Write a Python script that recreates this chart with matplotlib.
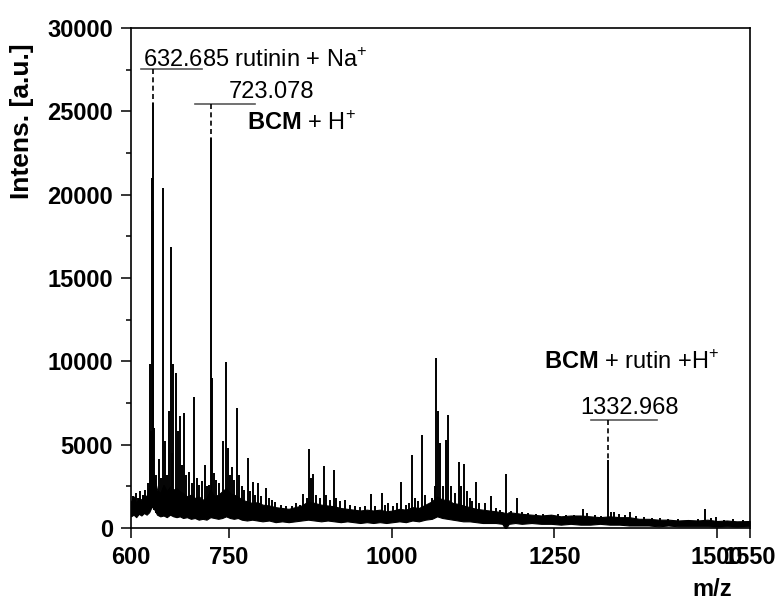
import numpy as np
import matplotlib
matplotlib.use("Agg")
import matplotlib.pyplot as plt

plt.rcParams["font.family"] = ["Liberation Sans", "DejaVu Sans"]
plt.rcParams["mathtext.fontset"] = "custom"
plt.rcParams["mathtext.rm"] = "Liberation Sans"
plt.rcParams["mathtext.bf"] = "Liberation Sans:bold"

# noisy baseline band (m/z, lower and upper edge of the trace)
band_mz = [600, 604, 608, 612, 616, 620, 624, 628, 632, 636,
           640, 645, 650, 655, 660, 665, 670, 675, 680, 686,
           692, 698, 704, 710, 716, 722, 728, 734, 740, 746,
           752, 758, 764, 770, 778, 786, 794, 802, 812, 822,
           832, 842, 852, 862, 872, 882, 892, 902, 912, 922,
           932, 942, 952, 962, 972, 982, 992, 1002, 1012, 1022,
           1032, 1042, 1052, 1062, 1070, 1078, 1086, 1094, 1102, 1110,
           1120, 1130, 1140, 1150, 1160, 1170, 1174, 1176, 1180, 1190,
           1200, 1215, 1230, 1245, 1260, 1275, 1290, 1305, 1320, 1335,
           1350, 1365, 1380, 1395, 1410, 1425, 1440, 1455, 1470, 1485,
           1500, 1515, 1530, 1550]
band_lo = [700, 800, 650, 850, 750, 900, 800, 950, 1300, 1100,
           800, 700, 750, 650, 800, 700, 650, 700, 600, 650,
           550, 600, 500, 550, 500, 650, 600, 550, 600, 700,
           600, 550, 600, 500, 450, 500, 450, 400, 450, 350,
           400, 350, 400, 450, 500, 450, 400, 450, 400, 350,
           400, 350, 300, 350, 300, 350, 300, 350, 400, 350,
           450, 400, 500, 550, 700, 600, 550, 500, 450, 400,
           400, 350, 300, 300, 300, 250, 0, 0, 250, 300,
           250, 300, 250, 250, 200, 250, 200, 200, 250, 200,
           200, 150, 150, 150, 100, 150, 100, 100, 100, 100,
           80, 100, 80, 100]
band_hi = [1600, 1900, 1500, 1800, 1700, 2000, 1900, 2600, 3800, 3000,
           2300, 2100, 2600, 2200, 2500, 2300, 2400, 2200, 2100, 1900,
           2000, 1800, 1900, 1700, 1800, 2300, 1900, 2000, 2200, 2400,
           2100, 2000, 1900, 1700, 1600, 1500, 1550, 1400, 1350, 1250,
           1200, 1150, 1250, 1350, 1600, 1500, 1400, 1350, 1300, 1200,
           1150, 1100, 1050, 1100, 1050, 1100, 1000, 1050, 1150, 1100,
           1250, 1200, 1400, 1600, 1900, 1700, 1700, 1500, 1450, 1350,
           1250, 1150, 1100, 1050, 1000, 950, 900, 850, 950, 900,
           850, 800, 750, 800, 700, 750, 750, 700, 650, 700,
           650, 650, 550, 550, 500, 500, 450, 480, 450, 500,
           420, 450, 400, 420]

# peaks
peak_mz = [603, 607, 611, 614, 618, 622, 626, 629, 630.5, 632.8,
           633.5, 634.3, 636, 639, 643, 646, 649, 652, 655, 658,
           661, 663, 665, 669, 672, 675, 678, 681, 684, 689,
           693, 697, 701, 705, 709, 713, 717, 720, 722.8, 724.5,
           727, 731, 735, 741, 745.6, 749, 752, 755, 758, 762.5,
           766, 770, 774, 779, 783, 787, 791, 795, 800, 807,
           812, 817, 821, 830, 838, 847, 854, 860, 864, 870,
           874, 877, 880, 884, 890, 896, 900, 905, 911, 915,
           921, 928, 936, 944, 952, 960, 969, 975, 985, 990,
           995, 1003, 1009, 1015, 1022, 1027, 1031, 1036, 1041, 1047.5,
           1052, 1057, 1062, 1066, 1069, 1071, 1074, 1079, 1084, 1087,
           1091, 1097, 1103, 1106, 1112, 1116, 1120, 1124, 1129, 1135,
           1144, 1153, 1160, 1166, 1176, 1183, 1192, 1200, 1210, 1222,
           1232, 1245, 1256, 1268, 1280, 1294, 1300, 1312, 1322, 1333,
           1337, 1342, 1350, 1358, 1366, 1375, 1388, 1400, 1412, 1425,
           1440, 1455, 1470, 1481, 1490, 1498, 1510, 1525, 1540]
peak_int = [1900, 2100, 1800, 2200, 2000, 2300, 2700, 9840, 5800, 21000,
            25500, 19000, 6000, 3200, 4170, 3000, 20400, 5250, 3200, 7040,
            16850, 4500, 9840, 9300, 5840, 6740, 3800, 6920, 3200, 3340,
            2700, 7870, 3000, 2600, 2800, 3760, 2500, 2600, 23400, 9000,
            3300, 2900, 2700, 5250, 9960, 4830, 3200, 3640, 2900, 7220,
            3200, 2500, 2300, 4230, 2200, 2740, 2000, 2680, 1900, 2400,
            1800, 1700, 1550, 1400, 1350, 1300, 1490, 1400, 2030, 1800,
            4770, 3000, 3220, 2000, 1800, 3700, 2000, 1700, 3460, 1800,
            1600, 1670, 1400, 1300, 1250, 1300, 2030, 1300, 2090, 1400,
            1490, 1310, 1500, 2740, 1400, 1500, 4410, 1800, 1600, 5610,
            2000, 1370, 1800, 2500, 10200, 7000, 5130, 2500, 5310, 6800,
            2500, 2090, 3940, 2500, 3820, 2200, 1800, 1600, 2740, 1500,
            1490, 1910, 1200, 1100, 3220, 1000, 1790, 950, 900, 850,
            850, 800, 830, 780, 800, 1130, 900, 800, 750, 4080,
            950, 950, 850, 800, 950, 700, 650, 600, 600, 550,
            550, 500, 550, 1130, 600, 660, 500, 520, 500]

# labelled peaks
label_peak_mz = [633.5, 722.8, 1332.5]
label_peak_int = [25500, 23400, 4080]

fig = plt.figure(figsize=(7.81, 6.0), dpi=100)
ax = fig.add_axes([0.1677, 0.12, 0.7923, 0.8333])

ax.fill_between(band_mz, band_lo, band_hi, color="black", linewidth=0.8)
base = np.interp(peak_mz, band_mz, band_lo)
ax.vlines(peak_mz, base, peak_int, color="black", linewidth=1.4)

# annotations
dash = (0, (3, 2))
ax.plot([615.3, 708.5], [27550, 27550], color="0.35", lw=1.2)
ax.plot([label_peak_mz[0]] * 2, [27550, label_peak_int[0]], color="black", lw=1.2, ls=dash)
ax.text(618.4, 27650, "632.685 rutinin + Na$^{+}$", fontsize=17, va="baseline")

ax.plot([698, 790], [25420, 25420], color="0.35", lw=1.2)
ax.plot([label_peak_mz[1]] * 2, [25420, label_peak_int[1]], color="black", lw=1.2, ls=dash)
ax.text(750.2, 25780, "723.078", fontsize=17, va="baseline")
ax.text(778, 23880, r"$\mathbf{BCM}$ + H$^{+}$", fontsize=17, va="baseline")

ax.plot([1306.5, 1407.7], [6480, 6480], color="0.35", lw=1.2)
ax.plot([label_peak_mz[2]] * 2, [6480, label_peak_int[2]], color="black", lw=1.2, ls=dash)
ax.text(1290, 6840, "1332.968", fontsize=17, va="baseline")
ax.text(1234.5, 9560, r"$\mathbf{BCM}$ + rutin +H$^{+}$", fontsize=17, va="baseline")

ax.set_xlim(600, 1550)
ax.set_ylim(0, 30000)
ax.set_xticks([600, 750, 1000, 1250, 1500, 1550])
ax.set_yticks(range(0, 30001, 5000))
ax.set_yticks(range(2500, 30000, 5000), minor=True)
ax.tick_params(axis="both", which="major", direction="out", length=7, width=1.1,
               labelsize=17, pad=6)
ax.tick_params(axis="y", which="minor", direction="out", length=3.5, width=1.1)
for lbl in ax.get_xticklabels() + ax.get_yticklabels():
    lbl.set_fontweight("bold")
for sp in ax.spines.values():
    sp.set_linewidth(1.2)

ax.set_xlabel("m/z", fontsize=17, fontweight="bold")
ax.xaxis.set_label_coords(0.94, -0.1)
ax.set_ylabel("Intens. [a.u.]", fontsize=19, fontweight="bold", va="center")
ax.yaxis.set_label_coords(-0.176, 0.814)

fig.savefig("out.png", dpi=100)
